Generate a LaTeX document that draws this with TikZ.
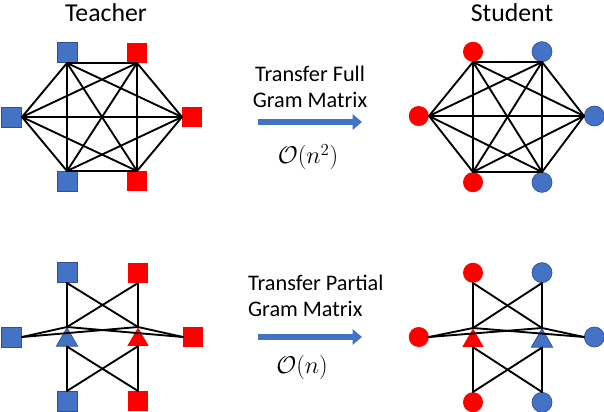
\documentclass[tikz,border=0pt]{standalone}
\usepackage{fontspec}
\setmainfont{Carlito}
\usetikzlibrary{arrows.meta, shapes.geometric}
\definecolor{my_blue}{HTML}{4472C4}
\definecolor{my_darkblue}{HTML}{2F528F}
\definecolor{my_red}{HTML}{FF0000}

\begin{document}
\begin{tikzpicture}[
    x=0.03cm, y=-0.03cm,
    edge/.style={black, line width=1.6pt, line cap=round},
    sqmark/.style={rectangle, minimum size=0.6cm, inner sep=0pt},
    dotmark/.style={circle, minimum size=0.6cm, inner sep=0pt},
    trimark/.style={regular polygon, regular polygon sides=3, minimum size=0.74cm, inner sep=0pt},
    blueish/.style={fill=my_blue, draw=my_darkblue, line width=0.6pt},
    redish/.style={fill=my_red},
    title/.style={font=\fontsize{22}{26}\selectfont},
    caption/.style={font=\fontsize{19}{22}\selectfont},
    cost/.style={font=\huge},
    transfer/.style={-{Triangle[length=8pt, width=13pt]}, my_blue, line width=5pt}
]

% Frame: pixel grid 604 x 412, y pointing down
\useasboundingbox (0,0) rectangle (604,412);

% Titles
\node[title] (teacher) at (106,13) {Teacher};
\node[title] (student) at (512,13) {Student};

% ---------- Full Gram matrix (top row) ----------
% Teacher: squares round a hexagon
\node[sqmark, blueish, anchor=south] (ta) at (67,63) {};
\node[sqmark, redish,  anchor=south] (tb) at (137,63) {};
\node[sqmark, redish,  anchor=west]  (tc) at (182,117) {};
\node[sqmark, redish,  anchor=north] (td) at (137,171) {};
\node[sqmark, blueish, anchor=north] (te) at (67,171) {};
\node[sqmark, blueish, anchor=east]  (tf) at (22,117) {};

\foreach \a/\b in {ta.south/tb.south, ta.south/tc.west, ta.south/td.north, ta.south/te.north, ta.south/tf.east,
                   tb.south/tc.west, tb.south/td.north, tb.south/te.north, tb.south/tf.east,
                   tc.west/td.north, tc.west/te.north, tc.west/tf.east,
                   td.north/te.north, td.north/tf.east, te.north/tf.east}
    \draw[edge] (\a) -- (\b);

% Student: circles round a hexagon
\node[dotmark, redish,  anchor=south] (sa) at (473,62) {};
\node[dotmark, blueish, anchor=south] (sb) at (542,62) {};
\node[dotmark, blueish, anchor=west]  (sc) at (584,116) {};
\node[dotmark, blueish, anchor=north] (sd) at (542,172) {};
\node[dotmark, redish,  anchor=north] (se) at (473,172) {};
\node[dotmark, redish,  anchor=east]  (sf) at (429,116) {};

\foreach \a/\b in {sa.south/sb.south, sa.south/sc.west, sa.south/sd.north, sa.south/se.north, sa.south/sf.east,
                   sb.south/sc.west, sb.south/sd.north, sb.south/se.north, sb.south/sf.east,
                   sc.west/sd.north, sc.west/se.north, sc.west/sf.east,
                   sd.north/se.north, sd.north/sf.east, se.north/sf.east}
    \draw[edge] (\a) -- (\b);

% Transfer arrow and cost
\coordinate (fullL) at (258,122);
\coordinate (fullR) at (362,122);
\node[caption, align=center] (fulltxt) at (310,87) {Transfer Full\\Gram Matrix};
\draw[transfer] (fullL) -- (fullR);
\node[cost] (fullcost) at (308,157) {$\mathcal{O}(n^2)$};

% ---------- Partial Gram matrix (bottom row) ----------
% Teacher: squares linked through two triangles
\node[sqmark, blueish, anchor=south] (pa) at (67,283) {};
\node[sqmark, redish,  anchor=south] (pb) at (138,283) {};
\node[sqmark, redish,  anchor=west]  (pc) at (183,337) {};
\node[sqmark, redish,  anchor=north] (pd) at (138,391) {};
\node[sqmark, blueish, anchor=north] (pe) at (67,391) {};
\node[sqmark, blueish, anchor=east]  (pf) at (22,337) {};
\node[trimark, blueish, anchor=north] (pt1) at (67,327) {};
\node[trimark, redish,  anchor=north] (pt2) at (138,327) {};

\foreach \a/\b in {pa.south/pt1.north, pa.south/pt2.north, pb.south/pt1.north, pb.south/pt2.north,
                   pf.east/pt1.north, pf.east/pt2.north, pc.west/pt1.north, pc.west/pt2.north,
                   pt1.south/pe.north, pt1.south/pd.north, pt2.south/pe.north, pt2.south/pd.north}
    \draw[edge] (\a) -- (\b);

% Student: circles linked through two triangles
\node[dotmark, redish,  anchor=south] (qa) at (473,283) {};
\node[dotmark, blueish, anchor=south] (qb) at (542,283) {};
\node[dotmark, blueish, anchor=west]  (qc) at (584,337) {};
\node[dotmark, blueish, anchor=north] (qd) at (542,392) {};
\node[dotmark, redish,  anchor=north] (qe) at (473,392) {};
\node[dotmark, redish,  anchor=east]  (qf) at (429,337) {};
\node[trimark, redish,  anchor=north] (qt1) at (473,328) {};
\node[trimark, blueish, anchor=north] (qt2) at (542,328) {};

\foreach \a/\b in {qa.south/qt1.north, qa.south/qt2.north, qb.south/qt1.north, qb.south/qt2.north,
                   qf.east/qt1.north, qf.east/qt2.north, qc.west/qt1.north, qc.west/qt2.north,
                   qt1.south/qe.north, qt1.south/qd.north, qt2.south/qe.north, qt2.south/qd.north}
    \draw[edge] (\a) -- (\b);

% Transfer arrow and cost
\coordinate (partL) at (258,337);
\coordinate (partR) at (362,337);
\node[caption, align=left, anchor=west] (parttxt) at (244,296) {Transfer Partial\\Gram Matrix};
\draw[transfer] (partL) -- (partR);
\node[cost] (partcost) at (302,367) {$\mathcal{O}(n)$};

\end{tikzpicture}
\end{document}
